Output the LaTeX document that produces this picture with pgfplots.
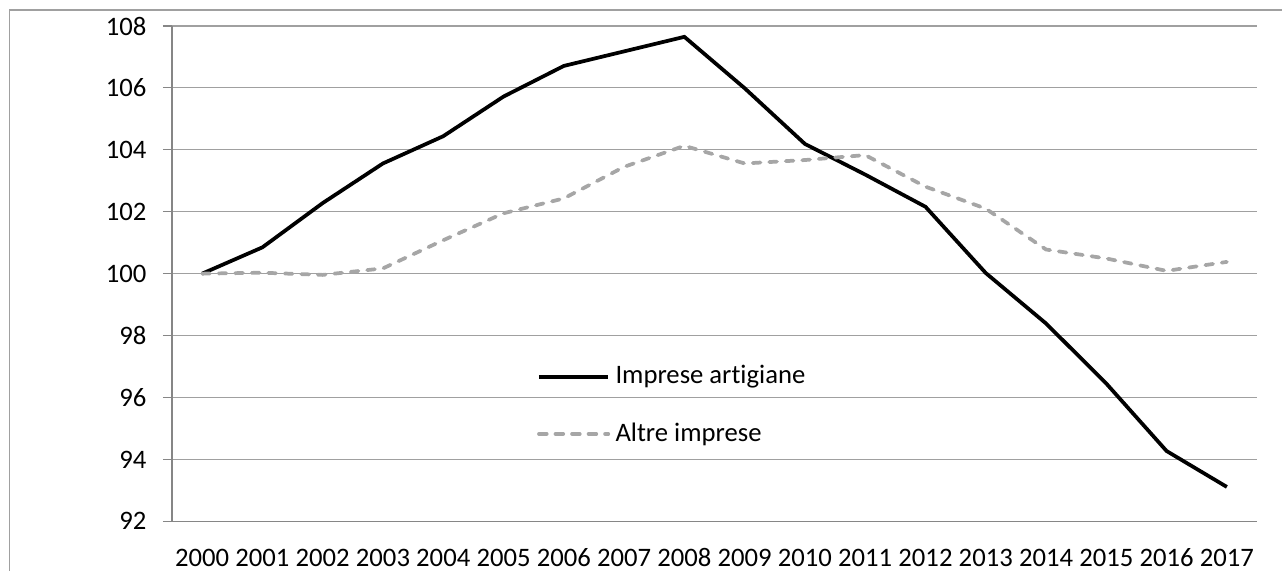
\documentclass[border=0pt]{standalone}
\usepackage{pgfplots}
\pgfplotsset{compat=1.18}
\usepackage{fontspec}
\setmainfont{Carlito}[Ligatures={NoCommon}]
\definecolor{gridc}{HTML}{A0A0A0}
\definecolor{axisc}{HTML}{868686}
\definecolor{sergray}{HTML}{A6A6A6}
\begin{document}
\fontsize{10}{12}\selectfont
\begin{tikzpicture}
\clip (0,0) rectangle (480.75pt,213.75pt);
\path[use as bounding box] (0,0) rectangle (480.75pt,213.75pt);
\draw[gridc, line width=0.6pt] (3.5pt,-5pt) rectangle (490pt,210pt);
\begin{axis}[
  at={(64.5pt,18.26pt)}, anchor=south west,
  scale only axis, width=406.875pt, height=185.74pt,
  xmin=-0.5, xmax=17.5, ymin=92, ymax=108,
  axis x line*=bottom, axis y line*=left,
  axis line style={draw=axisc, line width=0.4pt, -},
  xtick={0,...,17},
  xticklabels={2000,2001,2002,2003,2004,2005,2006,2007,2008,2009,2010,2011,2012,2013,2014,2015,2016,2017},
  minor xtick={-0.5,0.5,...,17.5},
  ytick={92,94,...,108},
  tick align=outside,
  major tick length=3.4pt, minor tick length=3.2pt,
  xtick style={draw=none},
  ytick style={draw=axisc, line width=0.4pt},
  minor tick style={draw=axisc, line width=0.4pt},
  ymajorgrids, major grid style={draw=gridc, line width=0.4pt},
  /pgf/number format/assume math mode=true,
  yticklabel style={font=\fontsize{10}{12}\selectfont, inner sep=0pt, xshift=-6pt},
  xticklabel style={font=\fontsize{10}{12}\selectfont, inner sep=0pt, anchor=base, yshift=-13.5pt},
  legend cell align=left,
  legend image code/.code={\draw[#1] (0pt,0pt) -- (26pt,0pt);},
  legend style={draw=none, fill=none, at={(0.336,0.234)}, anchor=west,
    inner sep=0pt, row sep=9pt, font=\fontsize{10}{12}\selectfont},
]
\addplot[black, line width=1.4pt] coordinates {
(0,100) (1,100.85) (2,102.28) (3,103.56) (4,104.44) (5,105.72) (6,106.71) (7,107.18) (8,107.65)
(9,105.99) (10,104.19) (11,103.2) (12,102.16) (13,100.02) (14,98.39) (15,96.45) (16,94.27) (17,93.11)};
\addlegendentry{Imprese artigiane}
\addplot[sergray, line width=1.4pt, line cap=round, dash pattern=on 2.9pt off 3.3pt] coordinates {
(0,100) (1,100.03) (2,99.96) (3,100.17) (4,101.08) (5,101.95) (6,102.43) (7,103.45) (8,104.13)
(9,103.56) (10,103.67) (11,103.83) (12,102.81) (13,102.1) (14,100.78) (15,100.49) (16,100.09) (17,100.38)};
\addlegendentry{Altre imprese}
\end{axis}
\end{tikzpicture}
\end{document}
